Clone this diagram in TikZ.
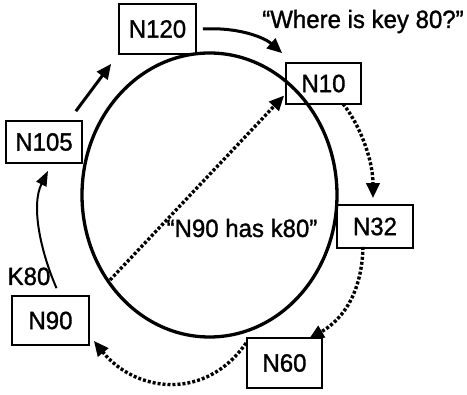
\documentclass[tikz,border=0pt]{standalone}
\usepackage{fontspec}
\setmainfont{Liberation Sans}[FakeStretch=0.96, FakeBold=1.2]
\usetikzlibrary{arrows.meta}
\begin{document}
\begin{tikzpicture}[x=1pt,y=-1pt,
  box/.style={draw, line width=1.7pt, inner sep=0pt, font=\fontsize{25}{28}\selectfont},
  lbl/.style={font=\fontsize{25}{28}\selectfont, inner sep=0pt},
  sarrow/.style={line width=3pt, -{Triangle[length=15pt,width=13pt]}},
  tarrow/.style={line width=2pt, -{Triangle[length=15pt,width=11pt]}},
  darrow/.style={line width=3.4pt, dash pattern=on 3pt off 2pt, -{Triangle[length=15pt,width=13pt]}},
]
\useasboundingbox (0,0) rectangle (467,395);
% ring
\draw[line width=3.3pt] (209.5,195) ellipse [x radius=127.5pt, y radius=142pt];
% nodes
\node[box, minimum width=77pt, minimum height=50pt] (n120) at (157.5,29) {N120};
\node[box, minimum width=76pt, minimum height=42pt] (n105) at (44,142) {N105};
\node[box, minimum width=75pt, minimum height=41pt] (n10) at (323.5,83.5) {N10};
\node[box, minimum width=76pt, minimum height=43pt] (n32) at (375,226.5) {N32};
\node[box, minimum width=75pt, minimum height=50pt] (n60) at (284.5,363) {N60};
\node[box, minimum width=77pt, minimum height=49pt] (n90) at (50.5,320.5) {N90};
% labels
\node[lbl, anchor=base] (q) at (363,28) {“Where is key 80?”};
\node[lbl, anchor=base] (ans) at (242,237) {“N90 has k80”};
\node[lbl, anchor=base] (k80) at (29,285) {K80};
% key point on ring
\coordinate (k) at (110,280);
% connectors
\draw[tarrow] ([shift={(6,-7)}]n90.north) .. controls (40,250) and (31,205) .. ([shift={(4,7)}]n105.south);
\draw[sarrow] ([shift={(-7,-9)}]n105.north east) -- ([shift={(-7,9)}]n120.south west);
\draw[sarrow] ([xshift=6pt]n120.east) .. controls (240,27) and (265,38) .. ([shift={(-3,-9)}]n10.north west);
\draw[darrow] ([shift={(19.5,-1)}]n10.south) .. controls (360,125) and (373,160) .. ([shift={(-2,-6)}]n32.north);
\draw[darrow] ([shift={(-12,-2)}]n32.south) .. controls (362,290) and (345,318) .. ([shift={(-14,2)}]n60.north east);
\draw[darrow] ([yshift=20pt]n60.west) .. controls (205,402) and (135,392) .. ([shift={(4,-5)}]n90.south east);
\draw[darrow] (k) -- ([shift={(-1,12)}]n10.west);
\end{tikzpicture}
\end{document}
